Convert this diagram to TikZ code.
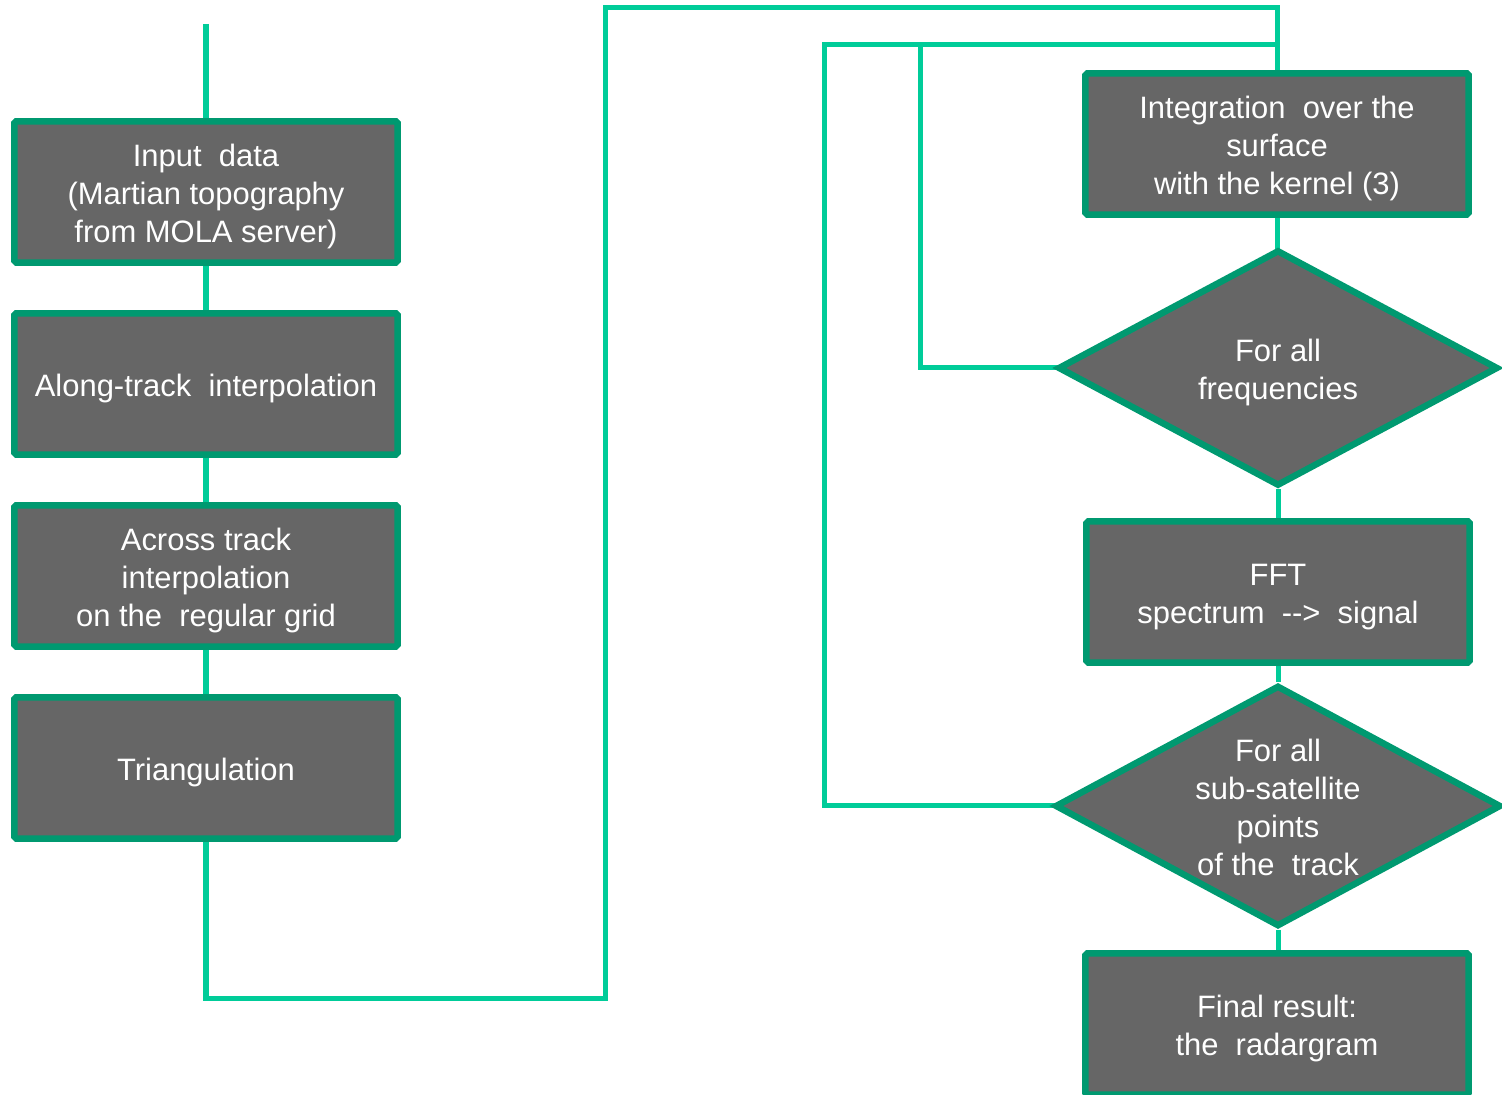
\documentclass[tikz,border=0pt]{standalone}
\usepackage{fontspec}
\setmainfont{Liberation Sans}
\usetikzlibrary{shapes.geometric,backgrounds}
\definecolor{conn}{HTML}{00CC99}
\definecolor{bord}{HTML}{009970}
\definecolor{boxfill}{HTML}{666666}
\newcommand{\btext}[1]{\raisebox{-0.05cm}[\height][\depth]{\setlength{\tabcolsep}{0pt}\begin{tabular}{c}#1\end{tabular}}}
\tikzset{
  procbox/.style={rectangle, draw=bord, fill=boxfill, line width=0.065cm, rounded corners=0.5pt,
    minimum width=3.83cm, minimum height=1.41cm, text=white,
    font=\fontsize{8.8}{10.8}\selectfont, inner sep=0pt},
  decbox/.style={diamond, draw=bord, fill=boxfill, line width=0.065cm, aspect=1.85,
    minimum width=4.40cm, minimum height=2.36cm, text=white,
    font=\fontsize{8.8}{10.8}\selectfont, inner sep=0pt},
  wire/.style={draw=conn, line width=0.05cm, line join=miter}
}
\begin{document}
\begin{tikzpicture}[x=0.01cm,y=-0.01cm]
\clip (0,0) rectangle (1502,1095);
% nodes
\node[procbox] (b1) at (206,192) {\btext{Input\ \ data\\(Martian topography\\from MOLA server)}};
\node[procbox] (b2) at (206,384) {\btext{Along-track\ \ interpolation}};
\node[procbox] (b3) at (206,576) {\btext{Across track\\interpolation\\on the\ \ regular grid}};
\node[procbox] (b4) at (206,768) {\btext{Triangulation}};
\node[procbox] (r1) at (1277,144) {\btext{Integration\ \ over the\\surface\\with the kernel (3)}};
\node[decbox] (d1) at (1278,368) {\btext{For all\\frequencies}};
\node[procbox] (r2) at (1278,592) {\btext{FFT\\spectrum\ \ -{}-{}>\ \ signal}};
\node[decbox] (d2) at (1278,806) {\btext{For all\\sub-satellite\\points\\of the\ \ track}};
\node[procbox] (r3) at (1277,1024) {\btext{Final result:\\the\ \ radargram}};
% coordinates for connector ends and bends
\coordinate (start) at (206,24);
\coordinate (c1) at (206,999);
\coordinate (c2) at (605,999);
\coordinate (c3) at (605,8);
\coordinate (c4) at (1277,8);
\coordinate (t1) at (1277,45);
\coordinate (l1) at (920,45);
\coordinate (l2) at (824,45);
% connectors
\begin{scope}[on background layer]
\path[wire] (start) -- (b1);
\path[wire] (b1) -- (b2);
\path[wire] (b2) -- (b3);
\path[wire] (b3) -- (b4);
\path[wire] (b4) -- (c1) -- (c2) -- (c3) -- (c4) -- (r1);
\path[wire] (r1) -- (r1 |- d1);
\path[wire] (d1) -- (r2);
\path[wire] (r2) -- (d2);
\path[wire] (d2) -- (d2 |- r3);
\path[wire] (d1.center) -- (d1.center -| l1) -- (l1);
\path[wire] (d2.center) -- (d2.center -| l2) -- (l2) -- (t1);
\end{scope}
\end{tikzpicture}
\end{document}
